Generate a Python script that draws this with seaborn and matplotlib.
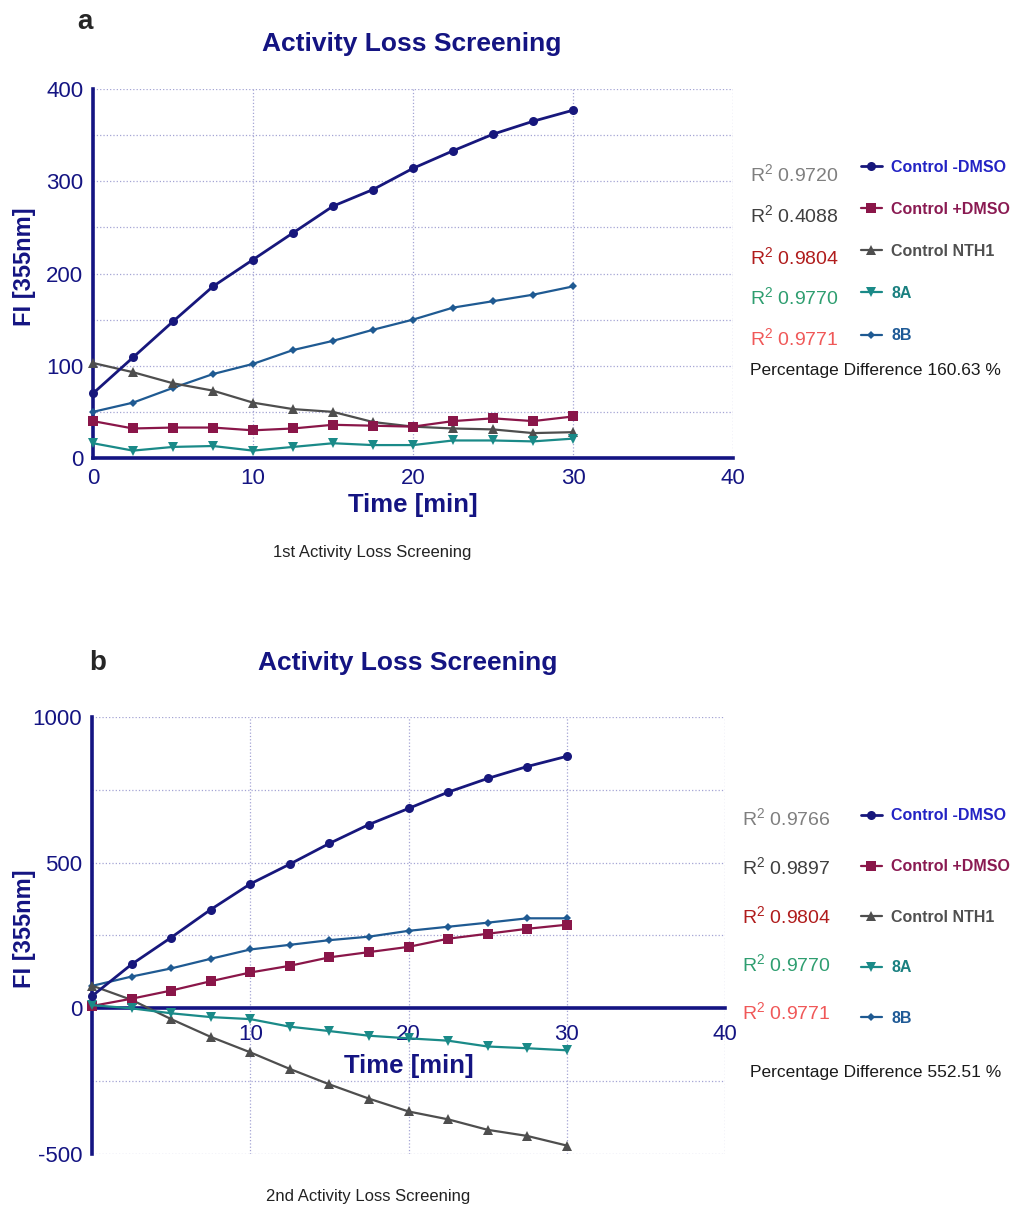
import matplotlib
matplotlib.use("Agg")
import matplotlib.pyplot as plt
import seaborn as sns
import pandas as pd
from matplotlib.ticker import MultipleLocator

# ---- data -------------------------------------------------------------
time_min = [0, 2.5, 5, 7.5, 10, 12.5, 15, 17.5, 20, 22.5, 25, 27.5, 30]
series_names = ["Control -DMSO", "Control +DMSO", "Control NTH1", "8A", "8B"]

# first screening (panel a)
a_ctrl_minus_dmso = [70, 109, 148, 186, 215, 244, 273, 291, 314, 333, 351, 365, 377]
a_ctrl_plus_dmso = [40, 32, 33, 33, 30, 32, 36, 35, 34, 40, 43, 40, 45]
a_ctrl_nth1 = [103, 93, 81, 73, 60, 53, 50, 39, 34, 32, 31, 27, 28]
a_8a = [16, 8, 12, 13, 8, 12, 16, 14, 14, 19, 19, 18, 21]
a_8b = [50, 60, 76, 91, 102, 117, 127, 139, 150, 163, 170, 177, 186]

# second screening (panel b)
b_ctrl_minus_dmso = [42, 151, 243, 339, 427, 495, 566, 631, 686, 742, 789, 830, 865]
b_ctrl_plus_dmso = [8, 33, 61, 93, 123, 146, 175, 193, 211, 239, 256, 273, 287]
b_ctrl_nth1 = [78, 29, -37, -98, -151, -208, -261, -310, -354, -381, -417, -438, -471]
b_8a = [11, 0, -17, -30, -37, -63, -78, -94, -103, -111, -131, -137, -144]
b_8b = [77, 109, 137, 170, 202, 218, 234, 246, 266, 280, 294, 309, 309]

a_r2 = ["0.9720", "0.4088", "0.9804", "0.9770", "0.9771"]
b_r2 = ["0.9766", "0.9897", "0.9804", "0.9770", "0.9771"]
a_pct_diff = "160.63"
b_pct_diff = "552.51"

# ---- style ------------------------------------------------------------
sns.set_style("white")
plt.rcParams["font.family"] = ["Liberation Sans", "DejaVu Sans"]
plt.rcParams["mathtext.default"] = "regular"
plt.rcParams["axes.unicode_minus"] = False

NAVY = "#141482"
GRID = "#a4a4d4"
line_colors = {"Control -DMSO": "#17177c", "Control +DMSO": "#8a1649",
               "Control NTH1": "#4e4e4e", "8A": "#1a8a88", "8B": "#1f5a92"}
label_colors = ["#2323c4", "#8a1a52", "#505050", "#1a8080", "#1f5a96"]
markers = {"Control -DMSO": "o", "Control +DMSO": "s", "Control NTH1": "^",
           "8A": "v", "8B": "D"}
msizes = {"Control -DMSO": 6.5, "Control +DMSO": 6.5, "Control NTH1": 6.5,
          "8A": 6.5, "8B": 4.5}
lwidths = {"Control -DMSO": 2.0, "Control +DMSO": 1.6, "Control NTH1": 1.6,
           "8A": 1.6, "8B": 1.6}
r2_colors = ["#7f7f7f", "#3f3f3f", "#b01c1c", "#2e9e70", "#f05858"]

W, H = 1025, 1207
fig = plt.figure(figsize=(W / 100, H / 100), dpi=100)


def px_axes(left, top, right, bottom):
    return fig.add_axes([left / W, 1 - bottom / H, (right - left) / W, (bottom - top) / H])


def fx(x):
    return x / W


def fy(y):
    return 1 - y / H


def draw_panel(ax, values, ylim, ymajor, zero_spine):
    df = pd.DataFrame({"Time": time_min * len(series_names),
                       "FI": sum(values, []),
                       "Series": [n for n in series_names for _ in time_min]})
    order = ["8B", "Control NTH1", "Control +DMSO", "8A", "Control -DMSO"]
    for name in order:
        sub = df[df["Series"] == name]
        sns.lineplot(data=sub, x="Time", y="FI", ax=ax, color=line_colors[name],
                     marker=markers[name], markersize=msizes[name],
                     markeredgewidth=0, linewidth=lwidths[name],
                     label=name, clip_on=False, zorder=3)
    ax.set_xlim(0, 40)
    ax.set_ylim(*ylim)
    ax.xaxis.set_major_locator(MultipleLocator(10))
    ax.yaxis.set_major_locator(MultipleLocator(ymajor))
    ax.yaxis.set_minor_locator(MultipleLocator(ymajor / 2))
    ax.grid(True, axis="y", which="both", ls=":", color=GRID, lw=0.9)
    ax.grid(True, axis="x", which="major", ls=":", color=GRID, lw=0.9)
    for s in ("top", "right"):
        ax.spines[s].set_visible(False)
    for s in ("left", "bottom"):
        ax.spines[s].set_color(NAVY)
        ax.spines[s].set_linewidth(2.6)
        ax.spines[s].set_zorder(2.5)
    if zero_spine:
        ax.spines["bottom"].set_position(("data", 0))
    ax.tick_params(axis="both", which="major", direction="out", length=5, width=2,
                   color=NAVY, labelcolor=NAVY, labelsize=16, pad=2)
    ax.tick_params(axis="y", which="minor", direction="out", length=4, width=1.5,
                   color=NAVY)
    ax.set_xlabel("Time [min]", fontsize=18.5, fontweight="bold", color=NAVY)
    ax.set_ylabel("FI [355nm]", fontsize=17, fontweight="bold", color=NAVY)
    ax.xaxis.label.set_va("center")
    ax.yaxis.label.set_va("center")
    ax.set_facecolor("none")


# ---- panel a ----------------------------------------------------------
ax_a = px_axes(93, 89, 733, 458)
draw_panel(ax_a, [a_ctrl_minus_dmso, a_ctrl_plus_dmso, a_ctrl_nth1, a_8a, a_8b],
           (0, 400), 100, False)
ax_a.xaxis.set_label_coords(0.5, (458 - 505) / 369)
ax_a.yaxis.set_label_coords((25 - 93) / 640, (458 - 267) / 369)

# ---- panel b ----------------------------------------------------------
ax_b = px_axes(92, 717, 725, 1154)
draw_panel(ax_b, [b_ctrl_minus_dmso, b_ctrl_plus_dmso, b_ctrl_nth1, b_8a, b_8b],
           (-500, 1000), 500, True)
ax_b.set_xticks([0, 10, 20, 30, 40])
ax_b.set_xticklabels(["", "10", "20", "30", "40"])
ax_b.tick_params(axis="x", which="major", pad=6)
ax_b.xaxis.set_label_coords(0.5, (1154 - 1066) / 437)
ax_b.yaxis.set_label_coords((25 - 92) / 633, (1154 - 929) / 437)


def side_legend(ax, top_px, spacing, r2_vals, r2_x, r2_ys, pct, pct_y):
    handles, labels = ax.get_legend_handles_labels()
    lookup = dict(zip(labels, handles))
    leg = ax.legend([lookup[n] for n in series_names], series_names,
                    loc="upper left", bbox_to_anchor=(fx(861), fy(top_px)),
                    bbox_transform=fig.transFigure, frameon=False,
                    prop={"weight": "bold", "size": 11.5},
                    handlelength=1.3, handletextpad=0.6, labelspacing=spacing,
                    borderaxespad=0, borderpad=0)
    for t, c in zip(leg.get_texts(), label_colors):
        t.set_color(c)
    for val, c, y in zip(r2_vals, r2_colors, r2_ys):
        fig.text(fx(r2_x), fy(y + 2), r"$R^2$ " + val, color=c, fontsize=14,
                 va="center", ha="left")
    fig.text(fx(750), fy(pct_y), "Percentage Difference " + pct + " %",
             color="#1a1a1a", fontsize=12.5, va="center", ha="left")


side_legend(ax_a, 159.5, 1.7, a_r2, 750, [172, 213, 255, 295, 336], a_pct_diff, 370)
side_legend(ax_b, 808.5, 2.23, b_r2, 742, [816, 865, 914, 962, 1010], b_pct_diff, 1073)

# ---- titles, panel letters, captions -----------------------------------
for x, y, txt in [(412, 44, "Activity Loss Screening"), (408, 663, "Activity Loss Screening")]:
    fig.text(fx(x), fy(y), txt, color=NAVY, fontsize=19, fontweight="bold",
             ha="center", va="center")
fig.text(fx(85), fy(22), "a", fontsize=20, fontweight="bold", ha="center", va="center")
fig.text(fx(98), fy(663), "b", fontsize=20, fontweight="bold", ha="center", va="center")
fig.text(fx(372), fy(552), "1st Activity Loss Screening", fontsize=12,
         color="#222222", ha="center", va="center")
fig.text(fx(368), fy(1196), "2nd Activity Loss Screening", fontsize=12,
         color="#222222", ha="center", va="center")

fig.savefig("out.png", dpi=100, facecolor="white")
